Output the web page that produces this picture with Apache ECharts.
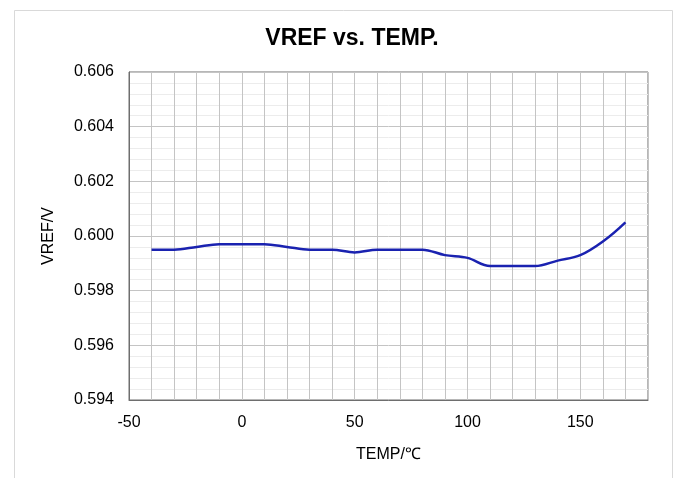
<!DOCTYPE html>
<html lang="en">
<head>
    <meta charset="UTF-8">
    <script src="https://cdn.jsdelivr.net/npm/echarts@6/dist/echarts.min.js"></script>
    <title>VREF vs. TEMP.</title>
    <style>
        html, body { margin: 0; padding: 0; background: #fff; }
    </style>
</head>
<body>
    <div id="vref-chart" style="width: 680px;height:478px;"></div>
</body>
<script type="text/javascript">
    // temperature points (℃) and measured VREF (V)
    var temps = [-40, -30, -20, -10, 0, 10, 20, 30, 40, 50, 60, 70, 80, 90, 100, 110, 120, 130, 140, 150, 160, 170];
    var vref = [0.5995, 0.5995, 0.5996, 0.5997, 0.5997, 0.5997, 0.5996, 0.5995, 0.5995, 0.5994, 0.5995,
                0.5995, 0.5995, 0.5993, 0.5992, 0.5989, 0.5989, 0.5989, 0.5991, 0.5993, 0.5998, 0.6005];
    var xTicks = [-50, 0, 50, 100, 150];
    var yTicks = ['0.594', '0.596', '0.598', '0.600', '0.602', '0.604', '0.606'];

    var points = temps.map(function (t, i) { return [t, vref[i]]; });
    var font = 'Liberation Sans, Arial, sans-serif';

    var vrefChart = echarts.init(document.getElementById('vref-chart'));
    vrefChart.setOption({
        animation: false,
        backgroundColor: '#fff',
        textStyle: { fontFamily: font },
        title: {
            text: 'VREF vs. TEMP.',
            left: 347,
            textAlign: 'center',
            top: 22,
            textStyle: { fontSize: 23, fontWeight: 'bold', color: '#000', fontFamily: font }
        },
        graphic: [{
            type: 'rect',
            shape: { x: 14.5, y: 10.5, width: 658, height: 480 },
            style: { fill: 'none', stroke: '#d9d9d9', lineWidth: 1 },
            silent: true,
            z: -1
        }],
        grid: {
            left: 129, right: 32, top: 72, bottom: 78,
            show: true,
            borderColor: '#6e6e6e',
            borderWidth: 1
        },
        xAxis: {
            type: 'value',
            min: xTicks[0],
            max: 180,
            interval: 50,
            name: 'TEMP/℃',
            nameLocation: 'middle',
            nameGap: 47,
            nameTextStyle: { fontSize: 16, color: '#000', fontFamily: font },
            axisLine: { show: true, onZero: false, lineStyle: { color: '#6e6e6e' } },
            axisTick: { show: false },
            axisLabel: {
                fontSize: 16, color: '#000', margin: 15,
                showMaxLabel: false,
                formatter: function (v) { return xTicks.indexOf(v) >= 0 ? String(v) : ''; }
            },
            splitLine: { show: true, lineStyle: { color: '#c4c4c4', width: 1 } },
            minorTick: { show: false, splitNumber: 5 },
            minorSplitLine: { show: true, lineStyle: { color: '#c4c4c4', width: 1 } }
        },
        yAxis: {
            type: 'value',
            min: 0.594,
            max: 0.606,
            interval: 0.002,
            name: 'VREF/V',
            nameLocation: 'middle',
            nameGap: 72,
            nameTextStyle: { fontSize: 16, color: '#000', fontFamily: font },
            axisLine: { show: true, onZero: false, lineStyle: { color: '#6e6e6e' } },
            axisTick: { show: false },
            axisLabel: {
                fontSize: 16, color: '#000', margin: 15,
                formatter: function (v) {
                    var i = Math.round((v - 0.594) / 0.002);
                    return yTicks[i] || v.toFixed(3);
                }
            },
            splitLine: { show: true, lineStyle: { color: '#c4c4c4', width: 1 } },
            minorTick: { show: false, splitNumber: 5 },
            minorSplitLine: { show: true, lineStyle: { color: '#ececec', width: 1 } }
        },
        series: [{
            name: 'VREF',
            type: 'line',
            data: points,
            smooth: 0.35,
            showSymbol: false,
            lineStyle: { color: '#1a22b0', width: 2.5 },
            itemStyle: { color: '#1a22b0' }
        }]
    });
</script>
</html>
